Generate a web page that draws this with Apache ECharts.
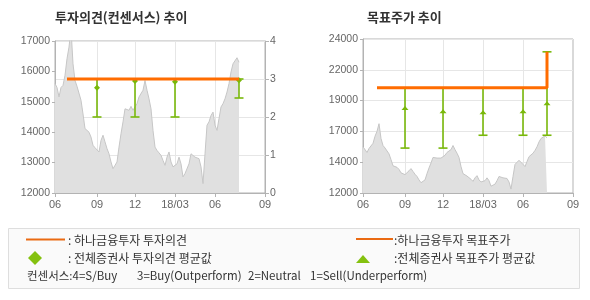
<!DOCTYPE html>
<html><head><meta charset="utf-8">
<script src="https://cdn.jsdelivr.net/npm/echarts@6/dist/echarts.min.js"></script>
<style>html,body{margin:0;padding:0;background:#fff}#c{width:590px;height:300px}</style>
</head><body><div id="c"></div>
<script>
// x positions are category indices (one category ~ every two trading days)
const tickIdx = [0, 21, 40, 60, 80, 105];
const tickText = ['06', '09', '12', '18/03', '06', '09'];

// stock price
const price = [15600,15470,15160,15470,15540,15870,16420,16800,17400,16250,
  15700,15510,15465,15050,14600,14120,14170,14000,13840,13570,
  13490,13430,13350,13730,13900,13680,13460,13290,13020,12800,
  12910,13020,13510,13950,14340,14770,14830,14720,14850,14720,
  14660,14940,15160,15100,15380,15700,15380,15100,14770,14060,
  13510,13400,13320,13240,13070,12910,13180,13350,13020,12860,
  12800,12960,13180,12960,12530,12640,12690,12960,13290,13270,
  13180,13240,13130,12860,12310,13290,14230,14340,14550,14660,
  14230,14060,14450,14830,14940,15100,15320,15600,15980,16250,
  16300,16450,16300];

// investment opinion (consensus) : index, low, high, average
const opinionIdx  = [21, 40, 60, 92];
const opinionLow  = [2, 2, 2, 2.5];
const opinionHigh = [3, 3, 3, 3];
const opinionAvg  = [2.77, 2.95, 2.93, 2.97];
const hanaOpinion = [[6, 3], [92, 3]];

// target price : index, low, high, average
const targetIdx  = [21, 40, 60, 80, 92];
const targetLow  = [15500, 15500, 16500, 16500, 16500];
const targetHigh = [20200, 20200, 20200, 20200, 23000];
const targetAvg  = [18500, 18250, 18180, 18250, 18880];
const hanaTarget = [[7, 20200], [92, 20200], [92, 23000]];

const GREEN = '#79b80a';
const ORANGE = '#ff6c00';
const AXIS = '#b3b3b3';
const GRIDC = '#e6e6e6';
const LBL = '#666';
const FONT = '"Liberation Sans", Arial, sans-serif';
const KFONT = '"Noto Sans CJK KR", sans-serif';

const categories = [];
for (let i = 0; i <= 105; i++) categories.push(String(i));
const isTick = (i) => tickIdx.indexOf(i) >= 0;
const isInner = (i) => isTick(i) && i !== 0 && i !== 105;

function xAxisFor(gi) {
  return {
    type: 'category', gridIndex: gi, data: categories, boundaryGap: false,
    axisLine: {lineStyle: {color: AXIS}},
    axisTick: {show: true, interval: (i) => isTick(i), length: 4, lineStyle: {color: AXIS}},
    axisLabel: {interval: (i) => isTick(i), formatter: (v) => tickText[tickIdx.indexOf(Number(v))] || '',
      color: LBL, fontSize: 11, fontFamily: FONT, margin: 6},
    splitLine: {show: true, interval: (i) => isInner(i), lineStyle: {color: GRIDC}}
  };
}

function rangeData(idx, lo, hi, av) {
  return idx.map((x, k) => [x, lo[k], hi[k], av[k]]);
}

function barRenderer(kind) {
  return function (params, api) {
    const x = api.value(0);
    const lo = api.coord([x, api.value(1)]);
    const hi = api.coord([x, api.value(2)]);
    const av = api.coord([x, api.value(3)]);
    const cx = lo[0];
    const st = {stroke: GREEN, lineWidth: 1.6};
    const children = [
      {type: 'line', shape: {x1: cx, y1: lo[1], x2: cx, y2: hi[1]}, style: st},
      {type: 'line', shape: {x1: cx - 4.5, y1: lo[1], x2: cx + 4.5, y2: lo[1]}, style: st},
      {type: 'line', shape: {x1: cx - 4.5, y1: hi[1], x2: cx + 4.5, y2: hi[1]}, style: st}
    ];
    if (kind === 'diamond') {
      children.push({type: 'polygon', shape: {points: [[cx, av[1] - 3], [cx + 3, av[1]], [cx, av[1] + 3], [cx - 3, av[1]]]},
        style: {fill: GREEN}});
    } else {
      children.push({type: 'polygon', shape: {points: [[cx - 3.5, av[1] + 0.5], [cx + 3.5, av[1] + 0.5], [cx, av[1] - 3.5]]},
        style: {fill: GREEN}});
    }
    return {type: 'group', children: children};
  };
}

const chart = echarts.init(document.getElementById('c'), null, {renderer: 'canvas'});
chart.setOption({
  animation: false,
  backgroundColor: '#fff',
  textStyle: {fontFamily: FONT},
  grid: [
    {left: 55, top: 41, width: 210, height: 152, show: true, borderColor: AXIS, borderWidth: 1, backgroundColor: 'transparent'},
    {left: 363, top: 39, width: 210, height: 154, show: true, borderColor: AXIS, borderWidth: 1, backgroundColor: 'transparent'}
  ],
  xAxis: [xAxisFor(0), xAxisFor(1)],
  yAxis: [
    {type: 'value', gridIndex: 0, min: 12000, max: 17000, interval: 1000,
      axisLine: {show: true, lineStyle: {color: AXIS}}, axisTick: {show: true, length: 3, lineStyle: {color: AXIS}},
      axisLabel: {color: LBL, fontSize: 10.5, fontFamily: FONT, margin: 5, formatter: (v) => String(v)}, splitLine: {show: false}},
    {type: 'value', gridIndex: 0, position: 'right', min: 0, max: 4, interval: 1,
      axisLine: {show: true, lineStyle: {color: AXIS}}, axisTick: {show: true, length: 4, lineStyle: {color: AXIS}},
      axisLabel: {color: LBL, fontSize: 10.5, fontFamily: FONT, margin: 5}, splitLine: {show: true, lineStyle: {color: GRIDC}}},
    {type: 'value', gridIndex: 1, min: 12000, max: 24000, interval: 2400,
      axisLine: {show: true, lineStyle: {color: AXIS}}, axisTick: {show: true, length: 3, lineStyle: {color: AXIS}},
      axisLabel: {color: LBL, fontSize: 10.5, fontFamily: FONT, margin: 5, formatter: (v) => String(Math.round(v / 1000) * 1000)},
      splitLine: {show: true, lineStyle: {color: GRIDC}}}
  ],
  series: [
    {type: 'line', xAxisIndex: 0, yAxisIndex: 0, data: price, symbol: 'none', z: 1,
      lineStyle: {color: '#c6c6c6', width: 1}, areaStyle: {color: '#e0e0e0', opacity: 1}},
    {type: 'custom', xAxisIndex: 0, yAxisIndex: 1, z: 2, renderItem: barRenderer('diamond'),
      encode: {x: 0, y: [1, 2, 3]}, data: rangeData(opinionIdx, opinionLow, opinionHigh, opinionAvg)},
    {type: 'line', xAxisIndex: 0, yAxisIndex: 1, data: hanaOpinion, symbol: 'none', z: 3,
      lineStyle: {color: ORANGE, width: 3}},
    {type: 'line', xAxisIndex: 1, yAxisIndex: 2, data: price, symbol: 'none', z: 1,
      lineStyle: {color: '#c6c6c6', width: 1}, areaStyle: {color: '#e0e0e0', opacity: 1}},
    {type: 'custom', xAxisIndex: 1, yAxisIndex: 2, z: 2, renderItem: barRenderer('triangle'),
      encode: {x: 0, y: [1, 2, 3]}, data: rangeData(targetIdx, targetLow, targetHigh, targetAvg)},
    {type: 'line', xAxisIndex: 1, yAxisIndex: 2, data: hanaTarget, symbol: 'none', z: 3,
      lineStyle: {color: ORANGE, width: 3}}
  ],
  graphic: [
    {type: 'text', left: 55, top: 11, style: {text: '투자의견(컨센서스) 추이', font: 'bold 13px ' + KFONT, fill: '#333'}},
    {type: 'text', left: 367, top: 11, style: {text: '목표주가 추이', font: 'bold 13px ' + KFONT, fill: '#333'}},
    {type: 'rect', shape: {x: 8.5, y: 228.5, width: 571, height: 60}, style: {fill: '#fafafa', stroke: '#dedede', lineWidth: 1}},
    {type: 'line', shape: {x1: 26, y1: 239.5, x2: 65, y2: 239.5}, style: {stroke: '#ea6a12', lineWidth: 2}},
    {type: 'text', x: 68, y: 240, style: {text: ': 하나금융투자 투자의견', font: '12px ' + KFONT, fill: '#333', verticalAlign: 'middle'}},
    {type: 'polygon', shape: {points: [[35, 251], [42, 258], [35, 265], [28, 258]]}, style: {fill: '#84c10f'}},
    {type: 'text', x: 68, y: 258, style: {text: ': 전체증권사 투자의견 평균값', font: '12px ' + KFONT, fill: '#333', verticalAlign: 'middle'}},
    {type: 'line', shape: {x1: 356, y1: 239, x2: 393, y2: 239}, style: {stroke: '#ea6a12', lineWidth: 2}},
    {type: 'text', x: 394, y: 240, style: {text: ':하나금융투자 목표주가', font: '12px ' + KFONT, fill: '#333', verticalAlign: 'middle'}},
    {type: 'polygon', shape: {points: [[356, 263], [370, 263], [363, 255]]}, style: {fill: '#84c10f'}},
    {type: 'text', x: 394, y: 258, style: {text: ':전체증권사 목표주가 평균값', font: '12px ' + KFONT, fill: '#333', verticalAlign: 'middle'}},
    {type: 'text', x: 27, y: 276, style: {text: '컨센서스:4=S/Buy', font: '11.5px ' + KFONT, fill: '#333', verticalAlign: 'middle'}},
    {type: 'text', x: 137, y: 276, style: {text: '3=Buy(Outperform)', font: '11.5px ' + KFONT, fill: '#333', verticalAlign: 'middle'}},
    {type: 'text', x: 248, y: 276, style: {text: '2=Neutral', font: '11.5px ' + KFONT, fill: '#333', verticalAlign: 'middle'}},
    {type: 'text', x: 310, y: 276, style: {text: '1=Sell(Underperform)', font: '11.5px ' + KFONT, fill: '#333', verticalAlign: 'middle'}}
  ]
});
</script></body></html>
